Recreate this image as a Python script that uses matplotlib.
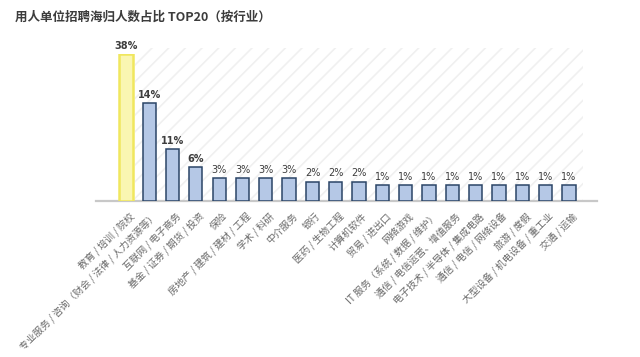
import numpy as np
import matplotlib
matplotlib.use("Agg")
import matplotlib.pyplot as plt
from matplotlib.patches import Rectangle
from matplotlib.transforms import ScaledTranslation

plt.rcParams['font.family'] = ['Noto Sans CJK SC', 'DejaVu Sans']
plt.rcParams['hatch.linewidth'] = 1.2

title = "用人单位招聘海归人数占比 TOP20（按行业）"

categories = [
    "教育 / 培训 / 院校",
    "专业服务 / 咨询（财会 / 法律 / 人力资源等）",
    "互联网 / 电子商务",
    "基金 / 证券 / 期货 / 投资",
    "保险",
    "房地产 / 建筑 / 建材 / 工程",
    "学术 / 科研",
    "中介服务",
    "银行",
    "医药 / 生物工程",
    "计算机软件",
    "贸易 / 进出口",
    "网络游戏",
    "IT 服务（系统 / 数据 / 维护）",
    "通信 / 电信运营、增值服务",
    "电子技术 / 半导体 / 集成电路",
    "通信 / 电信 / 网络设备",
    "旅游 / 度假",
    "大型设备 / 机电设备 / 重工业",
    "交通 / 运输",
]
values = [38, 14, 11, 6, 3, 3, 3, 3, 2, 2, 2, 1, 1, 1, 1, 1, 1, 1, 1, 1]
value_labels = [f"{v}%" for v in values]

# The original infographic does not draw bars to a linear scale;
# a non-linear display scale reproduces its proportions.
scale_in = np.array([0, 1, 2, 3, 6, 11, 14, 38, 100])
scale_out = np.array([0, 16, 19.5, 23, 34, 52, 98, 147, 300])

def fwd(v):
    return np.interp(v, scale_in, scale_out)

def inv(h):
    return np.interp(h, scale_out, scale_in)

fig = plt.figure(figsize=(6.4, 3.57), dpi=100)
ax = fig.add_axes([96 / 640, (357 - 201) / 357, 501 / 640, 147 / 357])
ax.set_yscale('function', functions=(fwd, inv))

x = np.arange(len(values))
face = ['#faf6b2'] + ['#b5c8e6'] * (len(values) - 1)
edge = ['#f0e75e'] + ['#2b4567'] * (len(values) - 1)
lws = [1.8] + [1.1] * (len(values) - 1)
ax.bar(x, values, width=0.57, color=face, edgecolor=edge, linewidth=lws, zorder=3)

for xi, v, lab in zip(x, values, value_labels):
    ax.annotate(lab, (xi, v), xytext=(0, 2.5), textcoords='offset points',
                ha='center', va='bottom', fontsize=7, color='#3d3d3d',
                fontweight='bold' if v >= 6 else 'normal',
                family=['DejaVu Sans'])

ax.set_xlim(-1.28, 20.2)
ax.set_ylim(0, 38)

# faint diagonal hatch backdrop
bg = Rectangle((0.078, 0.0), 0.894, 1.04, transform=ax.transAxes,
               facecolor='none', edgecolor='#f0f0f0', hatch='//', linewidth=0,
               clip_on=False, zorder=0)
ax.add_patch(bg)

for s in ['left', 'top', 'right']:
    ax.spines[s].set_visible(False)
ax.spines['bottom'].set_color('#c8c8c8')
ax.spines['bottom'].set_linewidth(1.6)
ax.set_yticks([])
ax.yaxis.set_minor_locator(matplotlib.ticker.NullLocator())
ax.set_xticks(x)
ax.set_xticklabels(categories, rotation=45, ha='right', va='top',
                   rotation_mode='anchor', fontsize=7, color='#6a6a6a')
ax.tick_params(axis='x', length=0, pad=7)
off = ScaledTranslation(3 / 100, 0, fig.dpi_scale_trans)
for lbl in ax.get_xticklabels():
    lbl.set_transform(lbl.get_transform() + off)

fig.text(15 / 640, 1 - 17 / 357, title, fontsize=9, fontweight='bold',
         color='#3c3c3c', va='center', ha='left')

fig.savefig("out.png", dpi=100, facecolor='white')
